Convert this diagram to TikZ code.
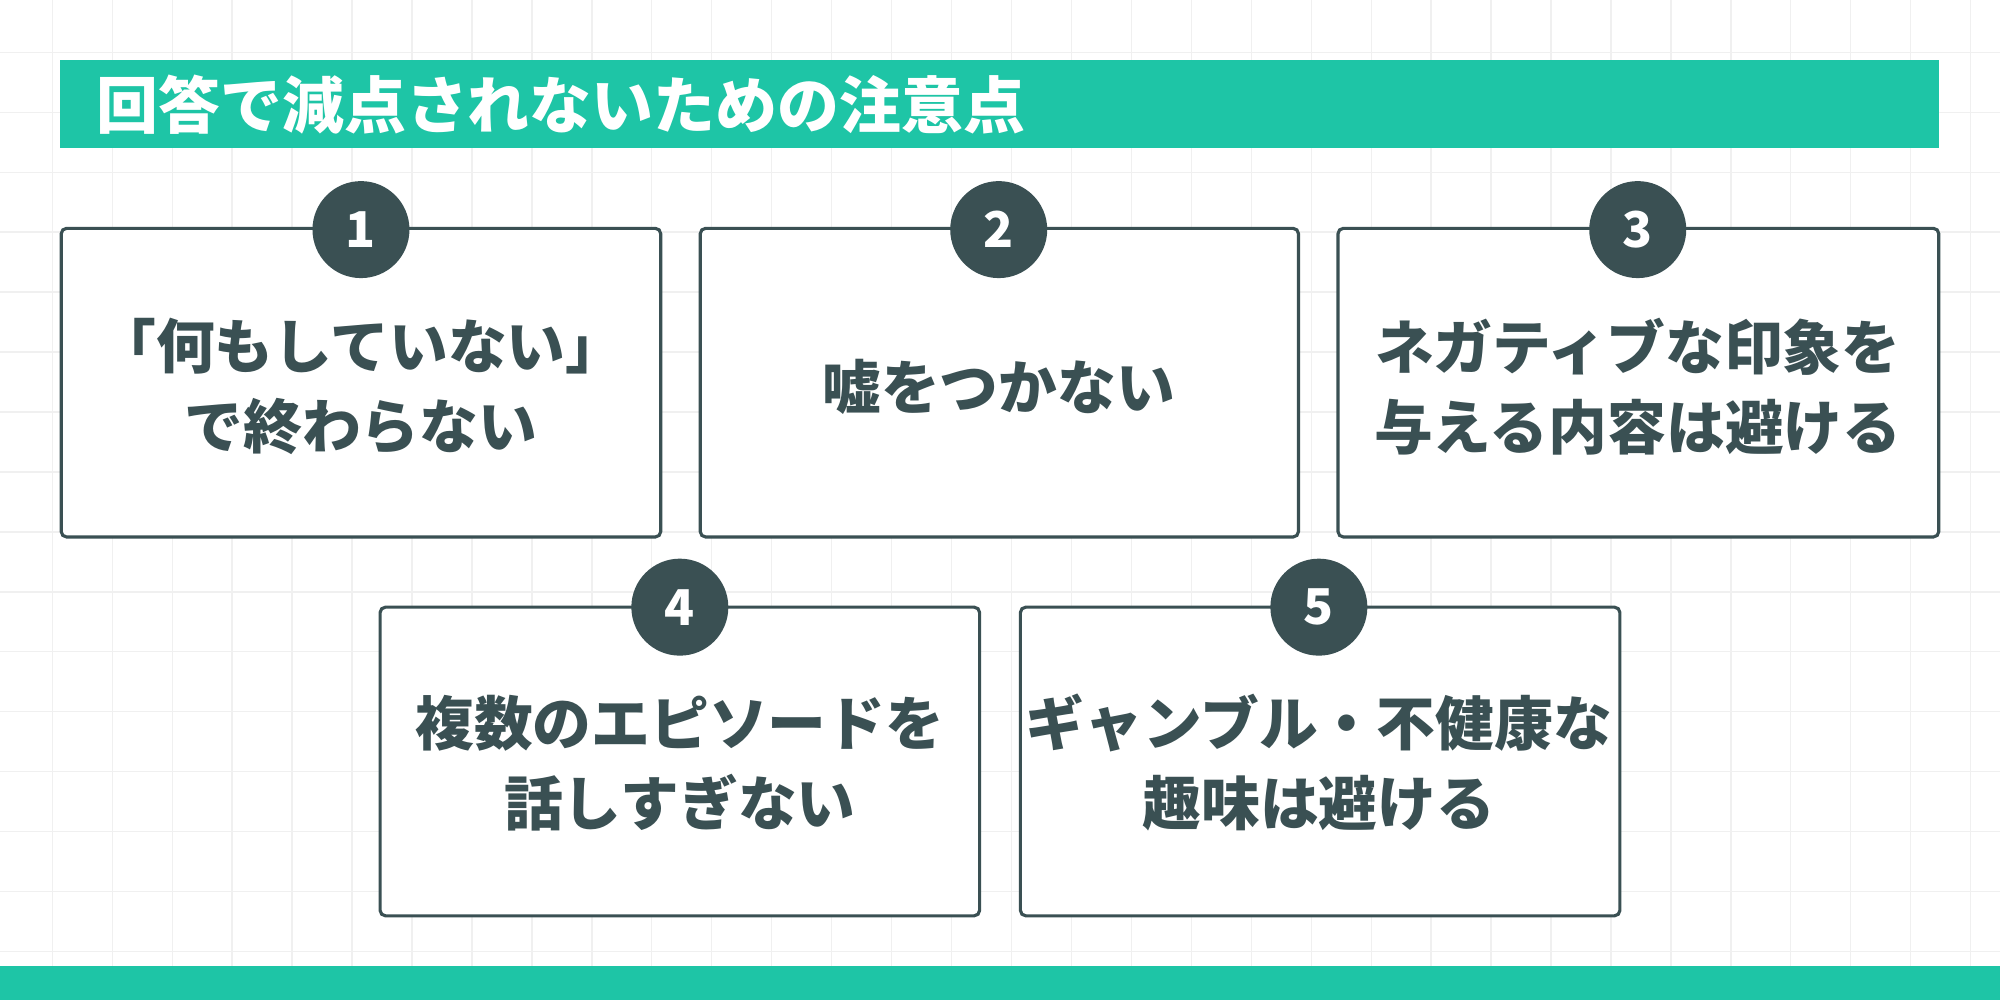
\documentclass[tikz,border=0pt]{standalone}
\usepackage{fontspec}
\newfontfamily\cjk{Noto Sans CJK JP}
\definecolor{teal}{HTML}{1EC5A6}
\definecolor{dark}{HTML}{3A5053}
\definecolor{gridc}{HTML}{F0F0F0}
\begin{document}
\begin{tikzpicture}[x=0.01cm,y=-0.01cm,
  card/.style={draw=dark,line width=0.7pt,rounded corners=1.2pt,fill=white},
  num/.style={circle,fill=dark,minimum size=0.76cm,inner sep=0pt,text=white,font=\cjk\bfseries\fontsize{11pt}{13pt}\selectfont},
  lbl/.style={align=center,text=dark,font=\cjk\bfseries\fontsize{13.1pt}{17.8pt}\selectfont}]
\useasboundingbox (0,0) rectangle (1568,784);
\fill[white] (0,0) rectangle (1568,784);
\foreach \i in {0,...,34} \draw[gridc,line width=0.3pt] (\i*47-6,0) -- (\i*47-6,784);
\foreach \j in {0,...,17} \draw[gridc,line width=0.3pt] (0,\j*47-6) -- (1568,\j*47-6);
\fill[teal] (47,47) rectangle (1520,116);
\node[anchor=west,inner sep=0pt,text=white,font=\cjk\bfseries\fontsize{13.8pt}{15pt}\selectfont] (title) at (75,82) {回答で減点されないための注意点};
\fill[teal] (0,757) rectangle (1568,784);
\draw[card] (48,179) rectangle (518,421);
\draw[card] (549,179) rectangle (1018,421);
\draw[card] (1049,179) rectangle (1520,421);
\draw[card] (298,476) rectangle (768,718);
\draw[card] (800,476) rectangle (1270,718);
\node[num] (n1) at (283,180) {1};
\node[num] (n2) at (783,180) {2};
\node[num] (n3) at (1284,180) {3};
\node[num] (n4) at (533,476) {4};
\node[num] (n5) at (1034,476) {5};
\node[lbl] (t1) at (283,303) {「何もしていない」\\で終わらない};
\node[lbl] (t2) at (783,303) {嘘をつかない};
\node[lbl] (t3) at (1284,303) {ネガティブな印象を\\与える内容は避ける};
\node[lbl] (t4) at (533,598) {複数のエピソードを\\話しすぎない};
\node[lbl] (t5) at (1034,598) {ギャンブル・不健康な\\趣味は避ける};
\end{tikzpicture}
\end{document}
